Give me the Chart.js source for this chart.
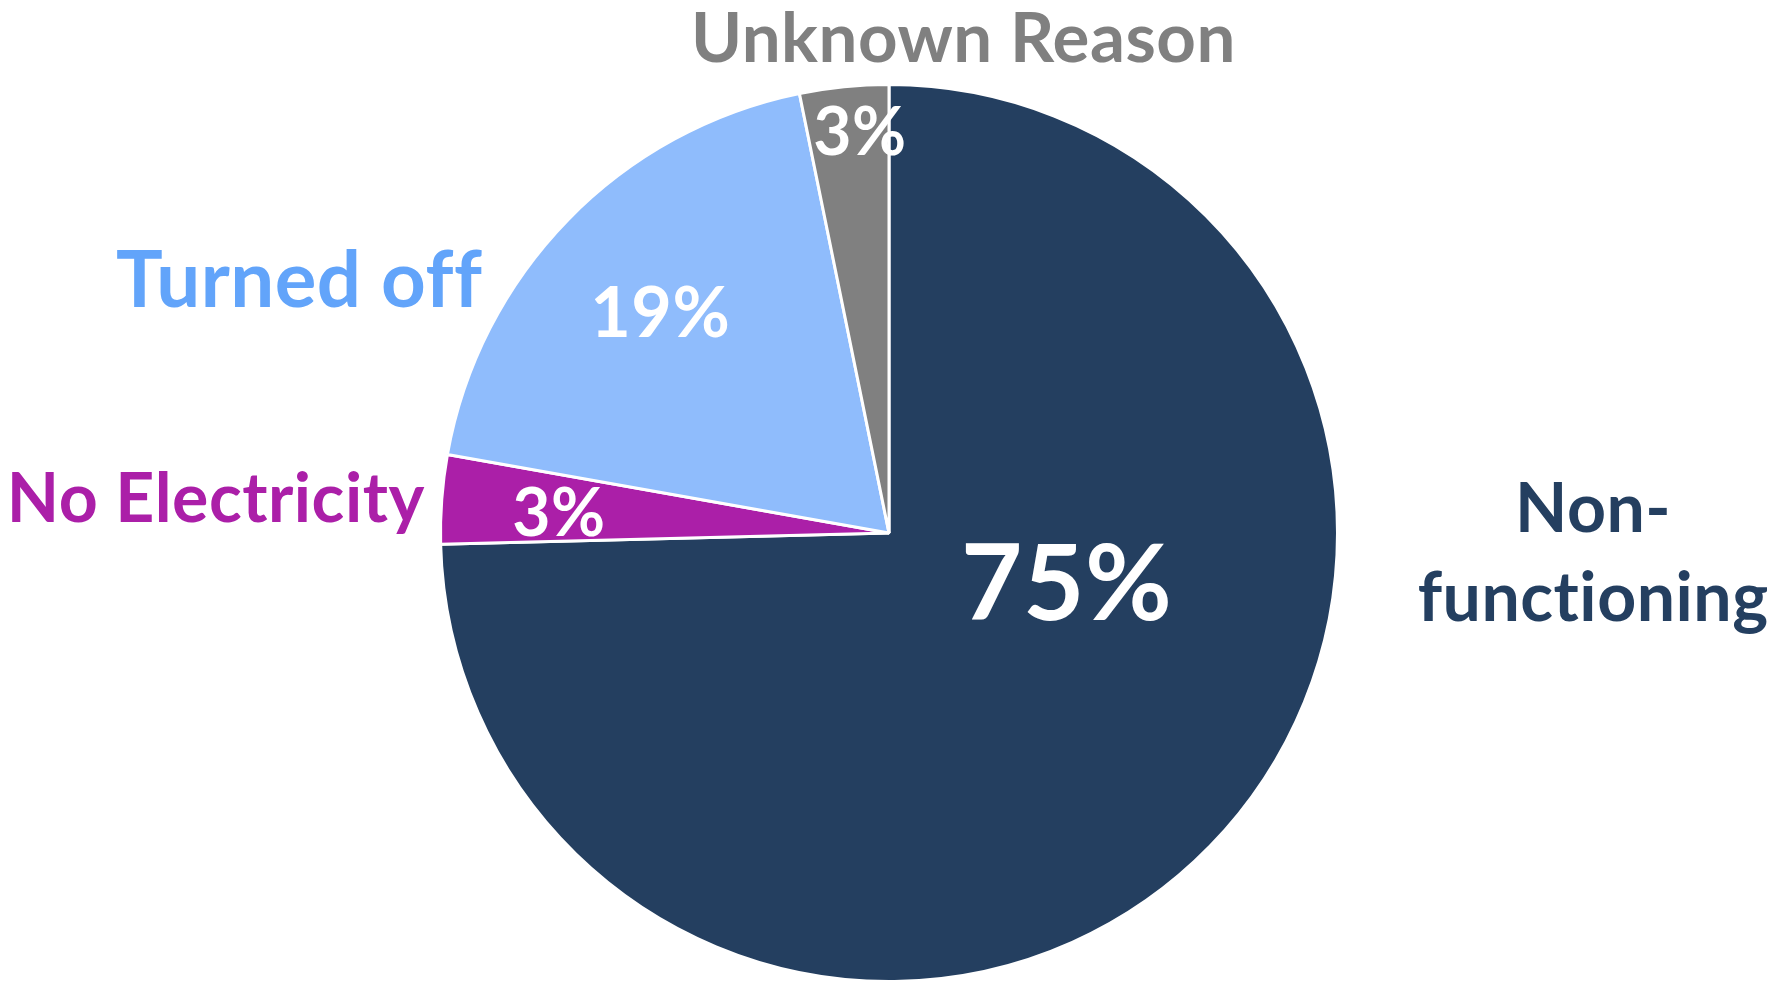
<!DOCTYPE html>
<html lang="en">
	<head>
		<meta charset="UTF-8" />
		<title>Reasons pie</title>
		<script src="https://cdn.jsdelivr.net/npm/chart.js"></script>
		<style>
			html,
			body {
				margin: 0;
				padding: 0;
				background: #ffffff;
			}
			#wrap {
				width: 1787px;
				height: 984px;
				position: relative;
			}
		</style>
	</head>
	<body>
		<div id="wrap">
			<canvas id="pieChart"></canvas>
		</div>

		<script>
			// data (share of total, %)
			const categories = [
				["Non-", "functioning"],
				"No Electricity",
				"Turned off",
				"Unknown Reason",
			];
			const shares = [74.6, 3.2, 19.0, 3.2];

			// styles
			const sliceColors = ["#243F60", "#AB1FA8", "#8FBCFC", "#808080"];
			const labelColors = ["#243F60", "#AB1FA8", "#62A4FA", "#808080"];

			// label placement, as fractions of the pie radius from its centre
			const outerPos = [
				{ x: 1.57, y: [-0.002, 0.197] },
				{ x: -1.501, y: [-0.025] },
				{ x: -1.315, y: [-0.503] },
				{ x: 0.166, y: [-1.051] },
			];
			const outerSize = [68, 68, 78, 69];
			const innerPos = [
				{ x: 0.396, y: 0.195 },
				{ x: -0.736, y: 0.007 },
				{ x: -0.51, y: -0.438 },
				{ x: -0.065, y: -0.843 },
			];
			const innerSize = [106, 66, 70, 66];

			const FONT = "Lato, 'Open Sans', sans-serif";

			const labelPlugin = {
				id: "sliceLabels",
				afterDatasetsDraw(chart) {
					const ctx = chart.ctx;
					const arcs = chart.getDatasetMeta(0).data;
					ctx.save();
					ctx.textAlign = "center";
					ctx.textBaseline = "alphabetic";
					ctx.letterSpacing = "0.5px"; // keeps Lato from joining "ti"
					arcs.forEach((arc, i) => {
						const r = arc.outerRadius;
						const cx = arc.x;
						const cy = arc.y;

						// percent inside the slice
						ctx.fillStyle = "#ffffff";
						ctx.font = `bold ${innerSize[i]}px ${FONT}`;
						ctx.fillText(
							Math.round(shares[i]) + "%",
							cx + innerPos[i].x * r,
							cy + innerPos[i].y * r
						);

						// category name outside
						const lines = [].concat(categories[i]);
						ctx.fillStyle = labelColors[i];
						ctx.font = `bold ${outerSize[i]}px ${FONT}`;
						lines.forEach((line, j) => {
							ctx.fillText(
								line,
								cx + outerPos[i].x * r,
								cy + outerPos[i].y[j] * r
							);
						});
					});
					ctx.restore();
				},
			};

			new Chart(document.getElementById("pieChart"), {
				type: "pie",
				data: {
					labels: categories,
					datasets: [
						{
							data: shares,
							backgroundColor: sliceColors,
							borderColor: "#ffffff",
							borderWidth: 3,
						},
					],
				},
				options: {
					responsive: true,
					maintainAspectRatio: false,
					animation: false,
					layout: {
						padding: { top: 83, bottom: 1, left: 0, right: 9 },
					},
					plugins: {
						legend: { display: false },
						tooltip: { enabled: false },
					},
				},
				plugins: [labelPlugin],
			});
		</script>
	</body>
</html>
